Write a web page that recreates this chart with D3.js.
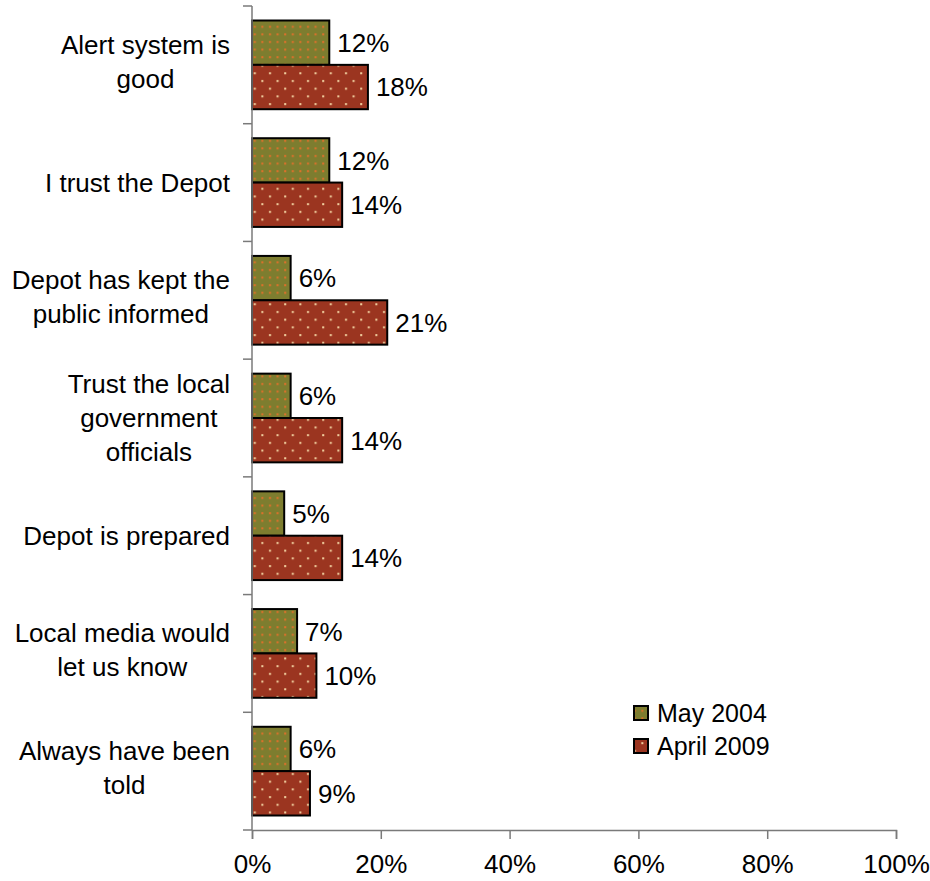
<!DOCTYPE html>
<html>
<head>
<meta charset="utf-8">
<script src="https://cdn.jsdelivr.net/npm/d3@7"></script>
<style>
  body { margin: 0; background: #fff; }
  svg { display: block; font-family: "Liberation Sans", Arial, sans-serif; }
</style>
</head>
<body>
<svg id="chart" width="930" height="881"></svg>
<script>
const categories = [
  ["Alert system is", "good"],
  ["I trust the Depot"],
  ["Depot has kept the", "public informed"],
  ["Trust the local", "government", "officials"],
  ["Depot is prepared"],
  ["Local media would", "let us know"],
  ["Always have been", "told"]
];
const seriesNames = ["May 2004", "April 2009"];
const may2004 = [12, 12, 6, 6, 5, 7, 6];
const april2009 = [18, 14, 21, 14, 14, 10, 9];
const xTicks = [0, 20, 40, 60, 80, 100];

const svg = d3.select("#chart");
const catKeys = categories.map(c => c.join(" "));
const seriesValues = [may2004, april2009];

const x = d3.scaleLinear().domain([0, 100]).range([252, 896]);
const y = d3.scaleBand().domain(catKeys).range([6, 830]).paddingInner(0).paddingOuter(0);
const ySub = d3.scaleBand().domain(seriesNames).range([14.5, y.bandwidth() - 14.5]);

// patterns
const defs = svg.append("defs");
const p1 = defs.append("pattern").attr("id", "patMay").attr("patternUnits", "userSpaceOnUse")
  .attr("width", 7.6).attr("height", 7.6);
p1.append("rect").attr("width", 7.6).attr("height", 7.6).attr("fill", "#7d7d2f");
p1.append("rect").attr("x", 3).attr("y", 3).attr("width", 2).attr("height", 2).attr("fill", "#e0702a");

const p2 = defs.append("pattern").attr("id", "patApr").attr("patternUnits", "userSpaceOnUse")
  .attr("width", 15.2).attr("height", 15.4);
p2.append("rect").attr("width", 15.2).attr("height", 15.4).attr("fill", "#9b3520");
p2.append("rect").attr("x", 3).attr("y", 3).attr("width", 2).attr("height", 2).attr("fill", "#f3d3a2");
p2.append("rect").attr("x", 10.6).attr("y", 10.7).attr("width", 2).attr("height", 2).attr("fill", "#f3d3a2");
const fills = ["url(#patMay)", "url(#patApr)"];

const axisColor = "#7a7a7a";

// bars
seriesNames.forEach((s, si) => {
  const g = svg.append("g");
  g.selectAll("rect").data(seriesValues[si]).join("rect")
    .attr("x", x(0))
    .attr("y", (d, i) => y(catKeys[i]) + ySub(s))
    .attr("width", d => x(d) - x(0))
    .attr("height", ySub.bandwidth())
    .attr("fill", fills[si])
    .attr("stroke", "#000")
    .attr("stroke-width", 2);
  g.selectAll("text").data(seriesValues[si]).join("text")
    .attr("x", d => x(d) + 8)
    .attr("y", (d, i) => y(catKeys[i]) + ySub(s) + ySub.bandwidth() / 2)
    .attr("dy", "0.36em")
    .attr("font-size", 26)
    .attr("fill", "#000")
    .text(d => d + "%");
});

// y axis
const yAxisG = svg.append("g");
yAxisG.append("line").attr("x1", x(0)).attr("x2", x(0)).attr("y1", y.range()[0]).attr("y2", y.range()[1])
  .attr("stroke", axisColor).attr("stroke-width", 1.5);
const boundaries = catKeys.map(k => y(k)).concat([y.range()[1]]);
yAxisG.selectAll("line.tick").data(boundaries).join("line").attr("class", "tick")
  .attr("x1", x(0) - 9).attr("x2", x(0)).attr("y1", d => d).attr("y2", d => d)
  .attr("stroke", axisColor).attr("stroke-width", 1.5);

// x axis
const xAxis = d3.axisBottom(x).tickValues(xTicks).tickSize(9).tickFormat(d => d + "%");
const xg = svg.append("g").attr("transform", `translate(0,${y.range()[1]})`).call(xAxis);
xg.select(".domain").attr("stroke", axisColor).attr("stroke-width", 1.5);
xg.selectAll(".tick line").attr("stroke", axisColor).attr("stroke-width", 1.5);
xg.selectAll(".tick text").attr("font-size", 26).attr("font-family", "Liberation Sans, Arial, sans-serif")
  .attr("fill", "#000").attr("y", 25).attr("dy", "0.71em");

// category labels
const lineH = 34;
categories.forEach((lines, i) => {
  const g = svg.append("g");
  const cy = y(catKeys[i]) + y.bandwidth() / 2;
  const texts = lines.map((ln, j) => g.append("text")
    .attr("font-size", 26).attr("fill", "#000").attr("text-anchor", "middle")
    .attr("y", cy + (j - (lines.length - 1) / 2) * lineH + 9 - (lines.length === 2 ? 3 : 0))
    .text(ln));
  const maxW = d3.max(texts, t => t.node().getComputedTextLength());
  texts.forEach(t => t.attr("x", 230 - maxW / 2));
});

// legend
const legend = svg.append("g");
seriesNames.forEach((s, i) => {
  const ly = 713 + i * 33;
  legend.append("rect").attr("x", 634).attr("y", ly - 7).attr("width", 14).attr("height", 14)
    .attr("fill", fills[i]).attr("stroke", "#000").attr("stroke-width", 2);
  legend.append("text").attr("x", 657).attr("y", ly).attr("dy", "0.36em")
    .attr("font-size", 25).attr("fill", "#000").text(s);
});
</script>
</body>
</html>
